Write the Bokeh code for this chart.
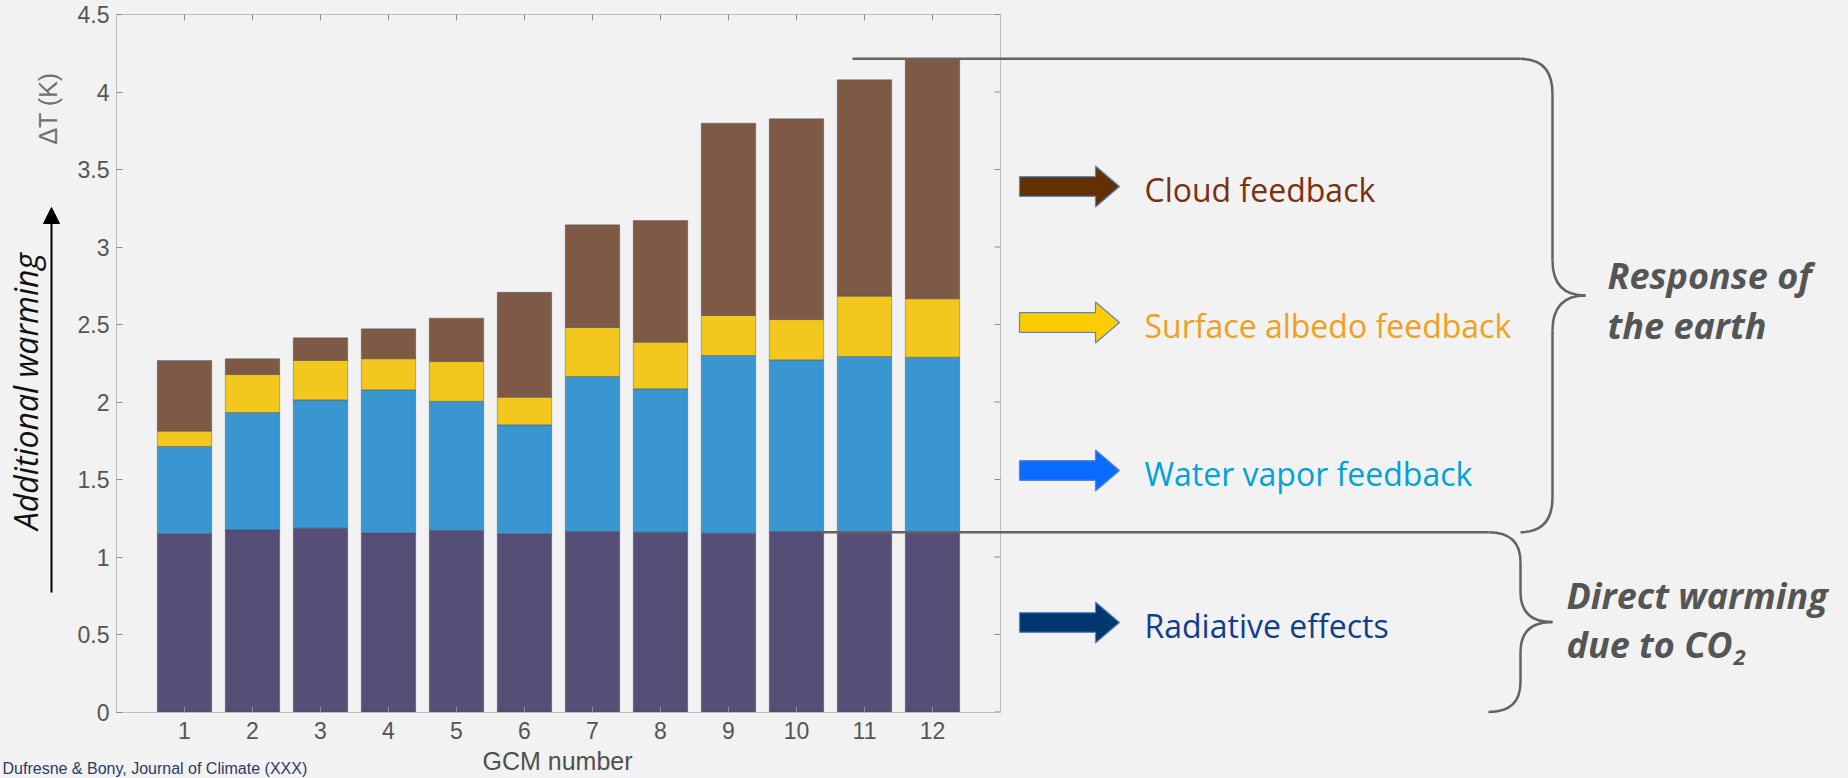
import math
from bokeh.plotting import figure
from bokeh.models import ColumnDataSource, FixedTicker, Arrow, NormalHead
from bokeh.core.properties import value
from bokeh.embed import file_html
from bokeh.resources import INLINE

# ---------------- data ----------------
gcm = [1, 2, 3, 4, 5, 6, 7, 8, 9, 10, 11, 12]
x_tick_labels = ["1", "2", "3", "4", "5", "6", "7", "8", "9", "10", "11", "12"]
radiative = [1.150, 1.175, 1.186, 1.156, 1.171, 1.150, 1.165, 1.160, 1.154, 1.165, 1.160, 1.160]
water_vapor = [0.563, 0.757, 0.828, 0.923, 0.834, 0.703, 1.000, 0.925, 1.146, 1.107, 1.134, 1.129]
albedo = [0.099, 0.245, 0.254, 0.200, 0.256, 0.178, 0.316, 0.301, 0.258, 0.260, 0.389, 0.377]
cloud = [0.456, 0.102, 0.146, 0.193, 0.280, 0.677, 0.662, 0.785, 1.241, 1.295, 1.396, 1.548]
y_ticks = [0, 0.5, 1, 1.5, 2, 2.5, 3, 3.5, 4, 4.5]
y_tick_labels = ["0", "0.5", "1", "1.5", "2", "2.5", "3", "3.5", "4", "4.5"]
x_lim = (0, 13)
y_lim = (0, 4.5)
x_axis_title = "GCM number"
y_axis_title = "ΔT (K)"
side_title = "Additional warming"
source_note = "Dufresne & Bony, Journal of Climate (XXX)"

legend_labels = ["Cloud feedback", "Surface albedo feedback", "Water vapor feedback", "Radiative effects"]
legend_arrow_colors = ["#633100", "#FFCC00", "#0A6CFF", "#00376F"]
legend_text_colors = ["#7B3010", "#F0A01E", "#00A2D8", "#103E8E"]
bar_colors = ["#574E78", "#3A96D0", "#F2C81E", "#7E5A46"]
group_labels = ["Response of", "the earth", "Direct warming", "due to CO"]

BG = "#F2F2F2"

# ---------------- layout geometry (canvas pixels) ----------------
W, H = 1848, 778
AX_LEFT = 116        # pixel x of data x = 0
AX_ZERO = 711.5      # pixel y of data y = 0
PX_PER_X = 68.0
PX_PER_Y = (AX_ZERO - 14) / 4.5


def px_x(X):
    return (X - AX_LEFT) / PX_PER_X


def px_y(Y):
    return (AX_ZERO - Y) / PX_PER_Y


p = figure(
    width=W, height=H,
    x_range=(px_x(0), px_x(W)), y_range=(px_y(H), px_y(0)),
    output_backend="svg", toolbar_location=None,
    min_border=0, min_border_left=0, min_border_right=0,
    min_border_top=0, min_border_bottom=0,
    background_fill_color=BG, border_fill_color=BG, outline_line_color=None,
)
p.title.visible = False
p.xgrid.visible = False
p.ygrid.visible = False

# ---------------- bars ----------------
src = ColumnDataSource(dict(gcm=gcm, radiative=radiative, water_vapor=water_vapor,
                            albedo=albedo, cloud=cloud))
p.vbar_stack(["radiative", "water_vapor", "albedo", "cloud"], x="gcm", width=0.8,
             color=bar_colors, line_color="#3A3A3A", line_alpha=0.35, line_width=1,
             source=src)

# ---------------- axes (library axes, pinned at the box edges) ----------------
AX_COL = "#BEBEBE"
TICK_COL = "#8C8C8C"
LBL_COL = "#555555"
for ax in (p.xaxis, p.yaxis):
    ax.fixed_location = 0
    ax.axis_line_color = AX_COL
    ax.major_tick_line_color = TICK_COL
    ax.major_tick_in = 6
    ax.major_tick_out = 0
    ax.minor_tick_line_color = None
    ax.major_label_text_font = "Liberation Sans"
    ax.major_label_text_font_size = "23px"
    ax.major_label_text_color = LBL_COL
p.xaxis.ticker = FixedTicker(ticks=gcm)
p.xaxis.major_label_overrides = {float(t): l for t, l in zip(gcm, x_tick_labels)}
p.xaxis.bounds = x_lim
p.xaxis.major_label_standoff = 10
p.yaxis.ticker = FixedTicker(ticks=y_ticks)
p.yaxis.major_label_overrides = {float(t): l for t, l in zip(y_ticks, y_tick_labels)}
p.yaxis.bounds = y_lim
p.yaxis.major_label_standoff = 7

# box top and right edges with inward ticks
p.segment(x0=[x_lim[0], x_lim[1]], y0=[y_lim[1], y_lim[0]], x1=[x_lim[1], x_lim[1]],
          y1=[y_lim[1], y_lim[1]], line_color=AX_COL, line_width=1)
p.ray(x=[x_lim[1]] * len(y_ticks), y=y_ticks, length=6, angle=math.pi,
      length_units="screen", line_color=TICK_COL, line_width=1)
p.ray(x=gcm, y=[y_lim[1]] * len(gcm), length=6, angle=-math.pi / 2,
      length_units="screen", line_color=TICK_COL, line_width=1)

# axis titles
p.text(x=[px_x(557)], y=[px_y(760)], text=[x_axis_title], text_font=value("Liberation Sans"),
       text_font_size="25px", text_color="#505050", text_align="center", text_baseline="middle")
p.text(x=[px_x(47)], y=[px_y(108)], text=[y_axis_title], angle=math.pi / 2,
       text_font=value("Liberation Sans"), text_font_size="25px", text_color="#707070",
       text_align="center", text_baseline="middle")

# ---------------- connectors and braces ----------------
total_last = radiative[-1] + water_vapor[-1] + albedo[-1] + cloud[-1]
rad_last = radiative[-1]
LINE_COL = "#636363"
LW = 2.5

p.segment(x0=[px_x(852), px_x(820)], y0=[total_last, rad_last],
          x1=[px_x(1520), px_x(1488)], y1=[total_last, rad_last],
          line_color=LINE_COL, line_width=LW)


def brace(L, M, T, top, bottom, ry):
    mid = (top + bottom) / 2.0
    q = dict(x0=[L, M, T, M], y0=[top, mid + ry, mid, bottom + ry],
             x1=[M, T, M, L], y1=[top - ry, mid, mid - ry, bottom],
             cx=[M, M, M, M], cy=[top, mid, mid, bottom])
    s = dict(x0=[M, M], y0=[top - ry, mid - ry], x1=[M, M], y1=[mid + ry, bottom + ry])
    p.quadratic(line_color=LINE_COL, line_width=LW, **q)
    p.segment(line_color=LINE_COL, line_width=LW, **s)


brace(px_x(1520), px_x(1552), px_x(1585), total_last, rad_last, 35 / PX_PER_Y)
brace(px_x(1488), px_x(1520), px_x(1552), rad_last, y_lim[0], 30 / PX_PER_Y)

# ---------------- legend block arrows ----------------
arrow_centers = [px_y(186), px_y(322), px_y(470), px_y(622)]
x0, xh, xt = px_x(1019), px_x(1095), px_x(1119)
bh, hh = 9.8 / PX_PER_Y, 20.5 / PX_PER_Y
xs, ys = [], []
for yc in arrow_centers:
    xs.append([x0, xh, xh, xt, xh, xh, x0])
    ys.append([yc + bh, yc + bh, yc + hh, yc, yc - hh, yc - bh, yc - bh])
p.patches(xs=xs, ys=ys, fill_color=legend_arrow_colors, line_color="#5A86C8", line_width=1.2)

leg_src = ColumnDataSource(dict(x=[px_x(1144)] * 4, y=[c - 3 / PX_PER_Y for c in arrow_centers],
                                text=legend_labels, color=legend_text_colors))
p.text(x="x", y="y", text="text", text_color="color", source=leg_src,
       text_font=value("Open Sans"), text_font_size="32px",
       text_baseline="middle", text_align="left")

# ---------------- right-hand group labels ----------------
grp = ColumnDataSource(dict(
    x=[px_x(1607), px_x(1607), px_x(1566), px_x(1566)],
    y=[px_y(275), px_y(325), px_y(595), px_y(644)],
    text=group_labels))
p.text(x="x", y="y", text="text", source=grp, text_font=value("Open Sans"),
       text_font_style="bold italic", text_font_size="36px", text_color="#555555",
       text_baseline="middle", text_align="left")
p.text(x=[px_x(1733)], y=[px_y(657)], text=["2"], text_font=value("Open Sans"),
       text_font_style="bold italic", text_font_size="22px", text_color="#555555",
       text_baseline="middle", text_align="left")

# ---------------- left-hand "Additional warming" marker ----------------
p.text(x=[px_x(25)], y=[px_y(391)], text=[side_title], angle=math.pi / 2,
       text_font=value("Open Sans"), text_font_style="italic", text_font_size="32px",
       text_color="#111111", text_align="center", text_baseline="middle")
p.add_layout(Arrow(end=NormalHead(size=16, fill_color="black", line_color="black"),
                   x_start=px_x(51), y_start=px_y(592), x_end=px_x(51), y_end=px_y(207),
                   line_color="black", line_width=2))

# source note
p.text(x=[px_x(2)], y=[px_y(768)], text=[source_note], text_font=value("Liberation Sans"),
       text_font_size="16px", text_color="#2B3A67", text_align="left", text_baseline="middle")

html = file_html(p, INLINE, title="Climate feedbacks")
html = html.replace("<head>", "<head><style>html,body{background:#F2F2F2;margin:0;padding:0;overflow:hidden;}</style>", 1)
open("out.html", "w").write(html)
